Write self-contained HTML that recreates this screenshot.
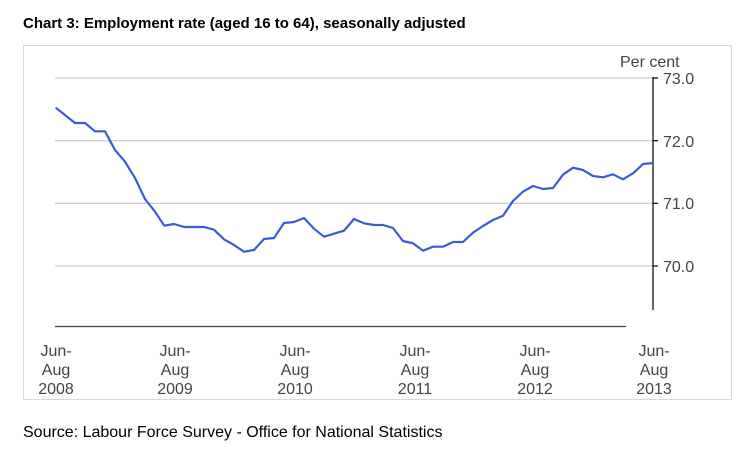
<!DOCTYPE html>
<html><head><meta charset="utf-8"><style>
body{margin:0;background:#fff;width:750px;height:454px;overflow:hidden;font-family:"Liberation Sans",sans-serif}
</style></head><body>
<svg width="750" height="454" xmlns="http://www.w3.org/2000/svg" font-family="Liberation Sans, sans-serif">
<text x="23" y="28" font-size="15" font-weight="bold" fill="#000">Chart 3: Employment rate (aged 16 to 64), seasonally adjusted</text>
<rect x="23.5" y="45.5" width="708" height="354" fill="none" stroke="#d9d9d9" stroke-width="1"/>
<g stroke="#cfcfcf" stroke-width="1.3">
<line x1="55" y1="78" x2="653" y2="78"/>
<line x1="55" y1="140.7" x2="653" y2="140.7"/>
<line x1="55" y1="203.3" x2="653" y2="203.3"/>
<line x1="55" y1="266" x2="653" y2="266"/>
</g>
<g stroke="#000" stroke-width="1.2">
<line x1="653" y1="77" x2="653" y2="310"/>
<line x1="653" y1="78" x2="658" y2="78"/>
<line x1="653" y1="140.7" x2="658" y2="140.7"/>
<line x1="653" y1="203.3" x2="658" y2="203.3"/>
<line x1="653" y1="266" x2="658" y2="266"/>
</g>
<line x1="55" y1="326.5" x2="626" y2="326.5" stroke="#444" stroke-width="1.3"/>
<g font-size="16" fill="#444">
<text x="620" y="67">Per cent</text>
<text x="663" y="84">73.0</text>
<text x="663" y="147">72.0</text>
<text x="663" y="209">71.0</text>
<text x="663" y="272">70.0</text>
</g>
<polyline fill="none" stroke="#3b5bd6" stroke-width="2.2" stroke-linejoin="round" points="55.7,107.7 75,123 85,123 95,131.3 105,131.3 115,150 125,161.7 135,178 145,199 155,211.7 164.3,225.7 174,224 184,227 204,227 214,229.7 224,239.3 234,245 244,251.7 254,250 264,239 274,238 284,223 294,222 304,218 314,228.7 324,236.7 334,233.7 344,230.7 354,219 364,223.3 374,225 383,225 393,228 403,241 413,243.3 423,250.7 433,246.7 443,246.7 453,242 463,242 473,232.7 483,226 493,220 503,215.7 513,201 523,191.7 533,186 543,189 553,188 563,174.7 573,167.7 583,170 593,176 603,177.3 613,174.3 623,179.3 633,173.3 643,164 653,163"/>
<g font-size="16" fill="#444" text-anchor="middle">
<text x="56" y="356">Jun-</text><text x="56" y="375">Aug</text><text x="56" y="394">2008</text>
<text x="175" y="356">Jun-</text><text x="175" y="375">Aug</text><text x="175" y="394">2009</text>
<text x="295" y="356">Jun-</text><text x="295" y="375">Aug</text><text x="295" y="394">2010</text>
<text x="415" y="356">Jun-</text><text x="415" y="375">Aug</text><text x="415" y="394">2011</text>
<text x="535" y="356">Jun-</text><text x="535" y="375">Aug</text><text x="535" y="394">2012</text>
<text x="654" y="356">Jun-</text><text x="654" y="375">Aug</text><text x="654" y="394">2013</text>
</g>
<text x="23" y="437" font-size="16" fill="#000">Source: Labour Force Survey - Office for National Statistics</text>
</svg>
</body></html>
